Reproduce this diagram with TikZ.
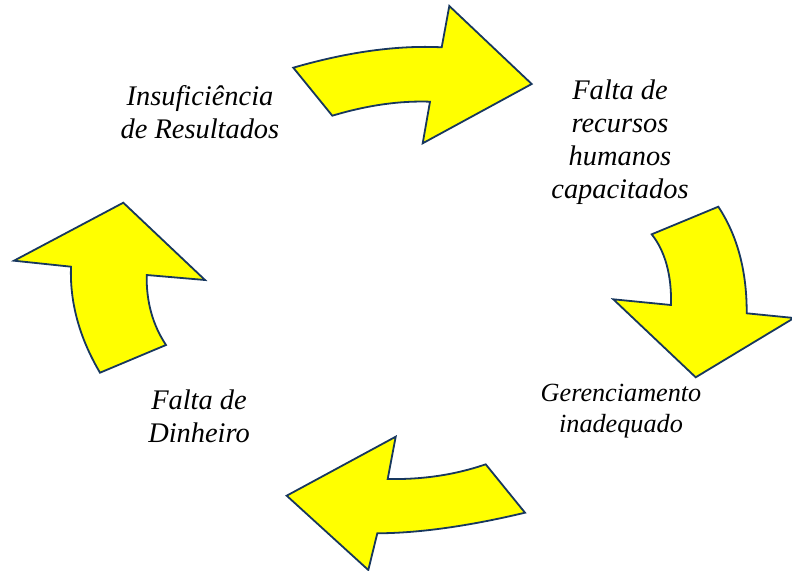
\documentclass[tikz,border=0pt]{standalone}
\usepackage{fontspec}
\setmainfont{Liberation Serif}
\definecolor{arrowfill}{HTML}{FFFF00}
\definecolor{arrowline}{HTML}{17375E}
\begin{document}
\begin{tikzpicture}[x=1bp,y=-1bp,
  bigarrow/.style={fill=arrowfill,draw=arrowline,line width=1.8bp,line join=miter},
  label/.style={align=center,inner sep=0pt,font=\fontsize{28.5}{33}\selectfont\itshape},
  smalllabel/.style={align=center,inner sep=0pt,font=\fontsize{26.3}{30.5}\selectfont\itshape}]
\useasboundingbox (0,0) rectangle (792,571);
% top arrow (pointing right)
\draw[bigarrow] (293.3,67.7) .. controls (347.8,51.9) and (397.2,45.1) .. (441.7,47.3)
  -- (449.3,6) -- (531.7,84) -- (422.7,143.3) -- (430,101.7)
  .. controls (400,100.6) and (367.4,105.2) .. (332.3,115.7) -- cycle;
% right arrow (pointing down)
\draw[bigarrow] (718.3,206.7) .. controls (737.4,235.6) and (746.9,271.1) .. (746.7,313.3)
  -- (794,318) -- (695.7,377.3) -- (613.3,299.3) -- (671,305)
  .. controls (671.7,275) and (665.2,251.4) .. (651.7,234.3) -- cycle;
% bottom arrow (pointing left)
\draw[bigarrow] (525,512.7) .. controls (468.3,526.2) and (419.1,533.1) .. (377.3,533.3)
  -- (368.3,570) -- (286.7,495.7) -- (395.7,436.7) -- (387.7,479)
  .. controls (422.6,479.7) and (455.2,474.8) .. (485.7,464.3) -- cycle;
% left arrow (pointing up)
\draw[bigarrow] (100,372.7) .. controls (79.3,337.6) and (69.7,302.2) .. (71,266.7)
  -- (14,260.7) -- (123.3,202.7) -- (205,280) -- (146.7,275)
  .. controls (146.2,301.7) and (152.7,325) .. (166,345) -- cycle;
% labels
\node[label] (ins) at (200,112) {Insuficiência\\de Resultados};
\node[label] (fal) at (620,142) {Falta de\\recursos\\humanos\\capacitados};
\node[smalllabel] (ger) at (621,411) {Gerenciamento\\inadequado};
\node[label] (din) at (199,416) {Falta de\\Dinheiro};
\end{tikzpicture}
\end{document}
